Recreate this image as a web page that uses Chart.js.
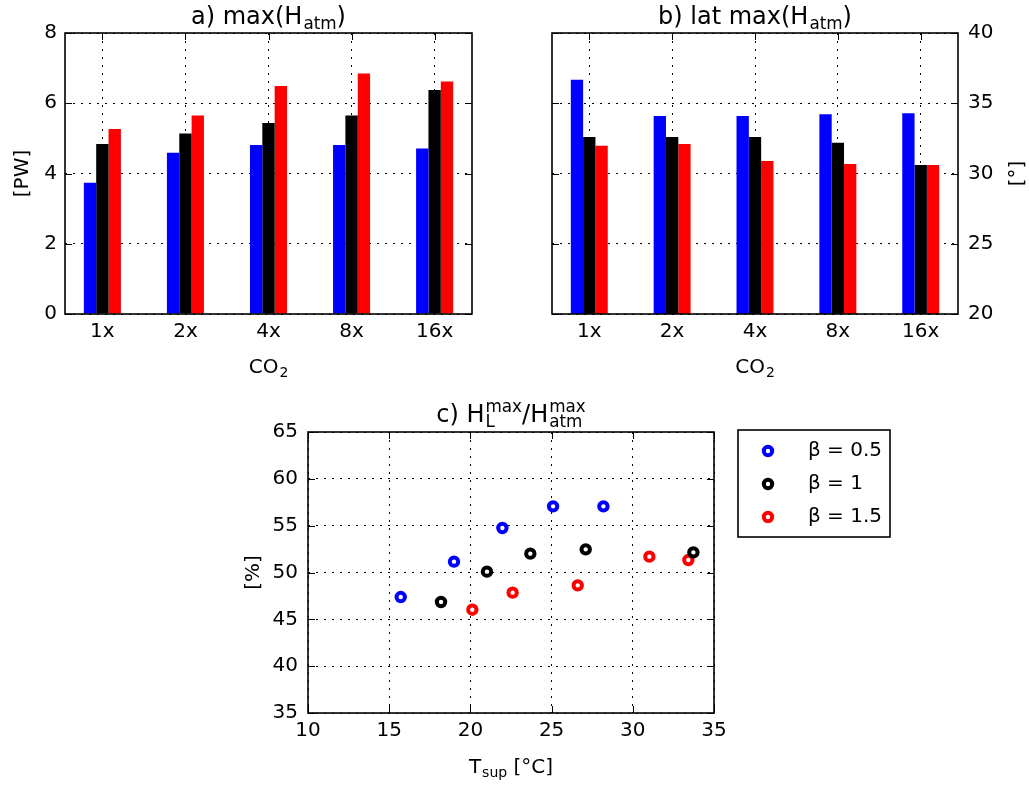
<!DOCTYPE html>
<html>
<head>
<meta charset="utf-8">
<script src="https://cdn.jsdelivr.net/npm/chart.js@4.4.1/dist/chart.umd.min.js"></script>
<style>
body { margin: 0; background: #fff; }
#wrap { position: relative; width: 1029px; height: 785px; }
canvas { position: absolute; }
</style>
</head>
<body>
<div id="wrap">
  <canvas id="chartA" width="515" height="390" style="left:0;top:0"></canvas>
  <canvas id="chartB" width="514" height="390" style="left:515px;top:0"></canvas>
  <canvas id="chartC" width="700" height="395" style="left:230px;top:390px"></canvas>
</div>
<script>
const co2Levels = ['1x', '2x', '4x', '8x', '16x'];
const betaLabels = ['β = 0.5', 'β = 1', 'β = 1.5'];
const betaColors = ['#0000ff', '#000000', '#ff0000'];

// a) peak atmospheric heat transport [PW]
const maxH_b05 = [3.74, 4.59, 4.81, 4.81, 4.71];
const maxH_b10 = [4.84, 5.14, 5.44, 5.65, 6.38];
const maxH_b15 = [5.27, 5.65, 6.49, 6.85, 6.62];

// b) latitude of the peak [deg]
const latH_b05 = [36.68, 34.09, 34.09, 34.21, 34.28];
const latH_b10 = [32.6, 32.6, 32.6, 32.19, 30.6];
const latH_b15 = [31.98, 32.1, 30.89, 30.68, 30.6];

// c) latent share of the peak vs surface temperature
const tsup_b05 = [15.71, 18.99, 21.97, 25.09, 28.19];
const ratio_b05 = [47.38, 51.16, 54.75, 57.06, 57.06];
const tsup_b10 = [18.19, 21.02, 23.69, 27.10, 33.73];
const ratio_b10 = [46.85, 50.09, 52.01, 52.47, 52.15];
const tsup_b15 = [20.12, 22.60, 26.61, 31.02, 33.42];
const ratio_b15 = [46.03, 47.85, 48.63, 51.69, 51.33];

const FONT = '"DejaVu Sans", sans-serif';
const font = size => size + 'px ' + FONT;

// text with sub/superscripts: {t}, {sub}, {sup}, or {sup, sub} stacked
function richWidth(ctx, parts, size) {
  let w = 0;
  parts.forEach(p => {
    if (p.t !== undefined) { ctx.font = font(size); w += ctx.measureText(p.t).width; }
    else {
      ctx.font = font(size * 0.7);
      w += Math.max(p.sub ? ctx.measureText(p.sub).width : 0, p.sup ? ctx.measureText(p.sup).width : 0) + 1;
    }
  });
  return w;
}

function drawRich(ctx, parts, x, y, size, rotate) {
  ctx.save();
  ctx.translate(x, y);
  if (rotate) ctx.rotate(-Math.PI / 2);
  ctx.fillStyle = '#000';
  ctx.textBaseline = 'alphabetic';
  ctx.textAlign = 'left';
  let cx = -richWidth(ctx, parts, size) / 2;
  parts.forEach(p => {
    if (p.t !== undefined) {
      ctx.font = font(size);
      ctx.fillText(p.t, cx, 0);
      cx += ctx.measureText(p.t).width;
    } else {
      ctx.font = font(size * 0.7);
      let w = 0;
      if (p.sup) { ctx.fillText(p.sup, cx + 1, -size * 0.42); w = ctx.measureText(p.sup).width; }
      if (p.sub) { ctx.fillText(p.sub, cx + 1, size * 0.22); w = Math.max(w, ctx.measureText(p.sub).width); }
      cx += w + 1;
    }
  });
  ctx.restore();
}

// axes box plus inward tick marks on all four sides
function drawFrame(chart) {
  const { ctx, chartArea: a, scales } = chart;
  ctx.save();
  ctx.strokeStyle = '#000';
  ctx.lineWidth = 1;
  ctx.beginPath();
  scales.x.ticks.forEach((t, i) => {
    const px = Math.round(scales.x.getPixelForTick(i)) + 0.5;
    ctx.moveTo(px, a.bottom); ctx.lineTo(px, a.bottom - 7);
    ctx.moveTo(px, a.top); ctx.lineTo(px, a.top + 7);
  });
  scales.y.ticks.forEach((t, i) => {
    const py = Math.round(scales.y.getPixelForTick(i)) + 0.5;
    ctx.moveTo(a.left, py); ctx.lineTo(a.left + 7, py);
    ctx.moveTo(a.right, py); ctx.lineTo(a.right - 7, py);
  });
  ctx.stroke();
  ctx.lineWidth = 1.6;
  ctx.strokeRect(a.left, a.top, a.right - a.left, a.bottom - a.top);
  ctx.restore();
}

function axis(opts) {
  return Object.assign({
    grid: { color: '#000', lineWidth: 1, drawTicks: false, offset: false },
    border: { display: false, dash: [2, 6] },
    ticks: { color: '#000', font: { family: FONT, size: 20 }, padding: 6 }
  }, opts);
}

// category axis running from -0.45 to 4.45 instead of the default half-step margins
function categoryAxis() {
  return axis({
    afterFit: s => { s.height = 76; },
    afterUpdate: s => { s._startValue = -0.45; s._valueRange = co2Levels.length - 0.1; }
  });
}

function barDataset(label, data, color) {
  return {
    label: label, data: data, backgroundColor: color, borderWidth: 0,
    categoryPercentage: 0.446, barPercentage: 1
  };
}

const common = {
  responsive: false,
  animation: false,
  events: [],
  plugins: { legend: { display: false }, tooltip: { enabled: false } }
};

// a) max(H_atm)
new Chart(document.getElementById('chartA'), {
  type: 'bar',
  data: {
    labels: co2Levels,
    datasets: [
      barDataset(betaLabels[0], maxH_b05, betaColors[0]),
      barDataset(betaLabels[1], maxH_b10, betaColors[1]),
      barDataset(betaLabels[2], maxH_b15, betaColors[2])
    ]
  },
  options: Object.assign({}, common, {
    layout: { padding: { left: 0, top: 33, right: 43, bottom: 0 } },
    scales: {
      x: categoryAxis(),
      y: axis({ min: 0, max: 8, ticks: { color: '#000', font: { family: FONT, size: 20 }, padding: 8, stepSize: 2 },
        afterFit: s => { s.width = 65; } })
    }
  }),
  plugins: [{
    id: 'decoA',
    afterDraw(chart) {
      const ctx = chart.ctx, a = chart.chartArea;
      drawFrame(chart);
      drawRich(ctx, [{ t: 'a) max(H' }, { sub: 'atm' }, { t: ')' }], (a.left + a.right) / 2, 24, 24);
      drawRich(ctx, [{ t: 'CO' }, { sub: '2' }], (a.left + a.right) / 2, 373, 20);
      drawRich(ctx, [{ t: '[PW]' }], 28, (a.top + a.bottom) / 2, 20, true);
    }
  }]
});

// b) latitude of max(H_atm)
new Chart(document.getElementById('chartB'), {
  type: 'bar',
  data: {
    labels: co2Levels,
    datasets: [
      barDataset(betaLabels[0], latH_b05, betaColors[0]),
      barDataset(betaLabels[1], latH_b10, betaColors[1]),
      barDataset(betaLabels[2], latH_b15, betaColors[2])
    ]
  },
  options: Object.assign({}, common, {
    layout: { padding: { left: 37, top: 33, right: 0, bottom: 0 } },
    scales: {
      x: categoryAxis(),
      y: axis({ position: 'right', min: 20, max: 40,
        ticks: { color: '#000', font: { family: FONT, size: 20 }, padding: 10, stepSize: 5 },
        afterFit: s => { s.width = 71; } })
    }
  }),
  plugins: [{
    id: 'decoB',
    afterDraw(chart) {
      const ctx = chart.ctx, a = chart.chartArea;
      drawFrame(chart);
      drawRich(ctx, [{ t: 'b) lat max(H' }, { sub: 'atm' }, { t: ')' }], (a.left + a.right) / 2, 24, 24);
      drawRich(ctx, [{ t: 'CO' }, { sub: '2' }], (a.left + a.right) / 2, 373, 20);
      drawRich(ctx, [{ t: '[°]' }], 508, (a.top + a.bottom) / 2, 20, true);
    }
  }]
});

// c) H_L^max / H_atm^max against T_sup
const ringPoints = (xs, ys) => xs.map((x, i) => ({ x: x, y: ys[i] }));
const scatterSets = [
  [tsup_b05, ratio_b05],
  [tsup_b10, ratio_b10],
  [tsup_b15, ratio_b15]
].map((d, i) => ({
  label: betaLabels[i],
  data: ringPoints(d[0], d[1]),
  borderColor: betaColors[i],
  backgroundColor: '#fff',
  pointRadius: 4.2,
  borderWidth: 4,
  showLine: false
}));

new Chart(document.getElementById('chartC'), {
  type: 'scatter',
  data: { datasets: scatterSets },
  options: Object.assign({}, common, {
    layout: { padding: { left: 0, top: 42, right: 216, bottom: 0 } },
    scales: {
      x: axis({ type: 'linear', min: 10, max: 35,
        ticks: { color: '#000', font: { family: FONT, size: 20 }, padding: 6, stepSize: 5 },
        afterFit: s => { s.height = 72; } }),
      y: axis({ min: 35, max: 65,
        ticks: { color: '#000', font: { family: FONT, size: 20 }, padding: 10, stepSize: 5 },
        afterFit: s => { s.width = 78; } })
    }
  }),
  plugins: [{
    id: 'decoC',
    afterDraw(chart) {
      const ctx = chart.ctx, a = chart.chartArea;
      drawFrame(chart);
      drawRich(ctx, [{ t: 'c) H' }, { sup: 'max', sub: 'L' }, { t: '/H' }, { sup: 'max', sub: 'atm' }],
        (a.left + a.right) / 2, 32, 24);
      drawRich(ctx, [{ t: 'T' }, { sub: 'sup' }, { t: ' [°C]' }], (a.left + a.right) / 2, 383, 20);
      drawRich(ctx, [{ t: '[%]' }], 29, (a.top + a.bottom) / 2, 20, true);

      // legend box to the right of the axes
      const lx = 508, ly = 40, lw = 152, lh = 107;
      ctx.save();
      ctx.strokeStyle = '#000';
      ctx.lineWidth = 1.6;
      ctx.strokeRect(lx, ly, lw, lh);
      chart.data.datasets.forEach((ds, i) => {
        const yy = ly + 21 + i * 33;
        ctx.beginPath();
        ctx.arc(lx + 30, yy, 4.2, 0, Math.PI * 2);
        ctx.fillStyle = '#fff';
        ctx.fill();
        ctx.lineWidth = 4;
        ctx.strokeStyle = ds.borderColor;
        ctx.stroke();
        ctx.fillStyle = '#000';
        ctx.font = font(20);
        ctx.textBaseline = 'middle';
        ctx.textAlign = 'left';
        ctx.fillText(ds.label, lx + 70, yy);
      });
      ctx.restore();
    }
  }]
});
</script>
</body>
</html>
